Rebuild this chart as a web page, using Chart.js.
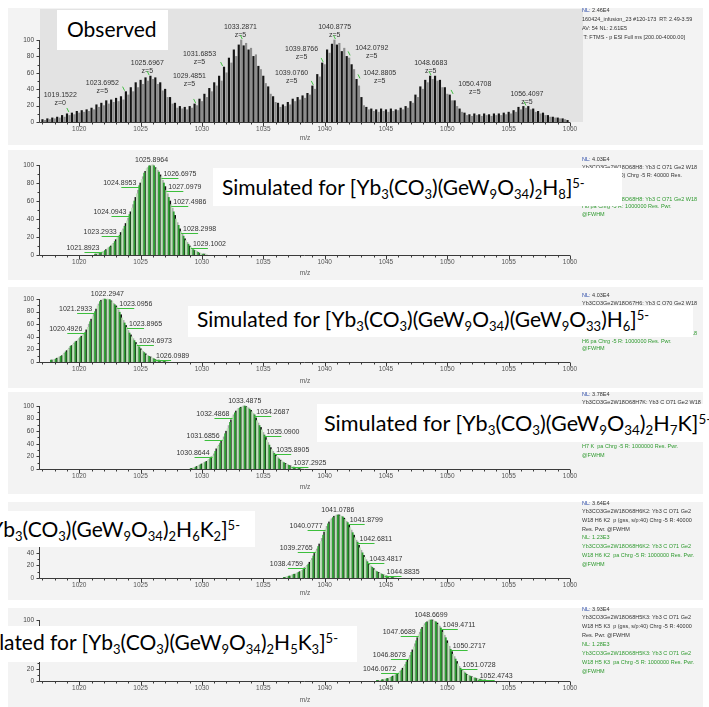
<!DOCTYPE html>
<html><head><meta charset="utf-8">
<script src="https://cdn.jsdelivr.net/npm/chart.js@4.4.1/dist/chart.umd.min.js"></script>
<style>
html,body{margin:0;padding:0;background:#fff;width:709px;height:707px;overflow:hidden;position:relative;font-family:"Liberation Sans",Arial,sans-serif}
.panel{position:absolute;left:8px;width:695px;background:#f3f3f3}
canvas{position:absolute;left:8px}
.info{position:absolute;left:582px;font-size:5.5px;white-space:nowrap;color:#333}
.info .g{color:#2f9a2f}
.info .nl{color:#2b4aa8}
.box{position:absolute;background:#fff;overflow:hidden;white-space:nowrap;font-family:Lato,"Open Sans",sans-serif;color:#000;font-size:21px;line-height:21px}
.box .t{position:absolute}
sub,sup{font-size:0.62em;line-height:0}
sub{vertical-align:-0.28em}
sup{vertical-align:0.55em}
</style></head>
<body>
<div class="panel" style="top:8px;height:137px"></div>
<div class="panel" style="top:150px;height:130px"></div>
<div class="panel" style="top:287px;height:101px"></div>
<div class="panel" style="top:392px;height:102px"></div>
<div class="panel" style="top:502px;height:98px"></div>
<div class="panel" style="top:608px;height:99px"></div>

<canvas id="c0" width="695" height="137" style="top:8px"></canvas>
<canvas id="c1" width="695" height="130" style="top:150px"></canvas>
<canvas id="c2" width="695" height="101" style="top:287px"></canvas>
<canvas id="c3" width="695" height="102" style="top:392px"></canvas>
<canvas id="c4" width="695" height="98" style="top:502px"></canvas>
<canvas id="c5" width="695" height="99" style="top:608px"></canvas>

<div class="info" style="top:5.5px;line-height:9px">
<div><span class="nl">NL:</span> 2.46E4</div>
<div>160424_infusion_23 #120-173&nbsp; RT: 2.49-3.59</div>
<div>AV: 54 NL: 2.61E5</div>
<div>&nbsp;T: FTMS - p ESI Full ms [200.00-4000.00]</div>
</div>
<div class="info" style="top:156px;line-height:7.9px">
<div><span class="nl">NL:</span> 4.03E4</div>
<div>Yb3CO3Ge2W18O68H8: Yb3 C O71 Ge2 W18</div>
<div>H8 p (gss, s/p:40) Chrg -5 R: 40000 Res.</div>
<div>Pwr. @FWHM</div>
<div class="g">NL: 1.23E3</div>
<div class="g">Yb3CO3Ge2W18O68H8: Yb3 C O71 Ge2 W18</div>
<div class="g">H8 pa Chrg -5 R: 1000000 Res. Pwr.</div>
<div class="g">@FWHM</div>
</div>
<div class="info" style="top:292px;line-height:7.6px">
<div><span class="nl">NL:</span> 4.03E4</div>
<div>Yb3CO3Ge2W18O67H6: Yb3 C O70 Ge2 W18</div>
<div>H6 p (gss, s/p:40) Chrg -5 R: 40000 Res.</div>
<div>Pwr. @FWHM</div>
<div class="g">NL: 1.23E3</div>
<div class="g">Yb3CO3Ge2W18O67H6: Yb3 C O70 Ge2 W18</div>
<div class="g">H6 pa Chrg -5 R: 1000000 Res. Pwr.</div>
<div class="g">@FWHM</div>
</div>
<div class="info" style="top:389.6px;line-height:8.7px">
<div><span class="nl">NL:</span> 3.78E4</div>
<div>Yb3CO3Ge2W18O68H7K: Yb3 C O71 Ge2 W18</div>
<div>H7 K p (gss, s/p:40) Chrg -5 R: 40000 Res.</div>
<div>Pwr. @FWHM</div>
<div class="g">NL: 1.28E3</div>
<div class="g">Yb3CO3Ge2W18O68H7K: Yb3 C O71 Ge2 W18</div>
<div class="g">H7 K&nbsp; pa Chrg -5 R: 1000000 Res. Pwr.</div>
<div class="g">@FWHM</div>
</div>
<div class="info" style="top:498.6px;line-height:8.7px">
<div><span class="nl">NL:</span> 3.64E4</div>
<div>Yb3CO3Ge2W18O68H6K2: Yb3 C O71 Ge2</div>
<div>W18 H6 K2&nbsp; p (gss, s/p:40) Chrg -5 R: 40000</div>
<div>Res. Pwr. @FWHM</div>
<div class="g">NL: 1.23E3</div>
<div class="g">Yb3CO3Ge2W18O68H6K2: Yb3 C O71 Ge2</div>
<div class="g">W18 H6 K2&nbsp; pa Chrg -5 R: 1000000 Res. Pwr.</div>
<div class="g">@FWHM</div>
</div>
<div class="info" style="top:604.5px;line-height:8.9px">
<div><span class="nl">NL:</span> 3.93E4</div>
<div>Yb3CO3Ge2W18O68H5K3: Yb3 C O71 Ge2</div>
<div>W18 H5 K3&nbsp; p (gss, s/p:40) Chrg -5 R: 40000</div>
<div>Res. Pwr. @FWHM</div>
<div class="g">NL: 1.28E3</div>
<div class="g">Yb3CO3Ge2W18O68H5K3: Yb3 C O71 Ge2</div>
<div class="g">W18 H5 K3&nbsp; pa Chrg -5 R: 1000000 Res. Pwr.</div>
<div class="g">@FWHM</div>
</div>

<div class="box" style="left:57px;top:10px;width:111px;height:40px"><span class="t" style="left:10px;top:8px">Observed</span></div>
<div class="box" style="left:213px;top:168px;width:409px;height:38px"><span class="t" style="left:9px;top:8.4px">Simulated for [Yb<sub>3</sub>(CO<sub>3</sub>)(GeW<sub>9</sub>O<sub>34</sub>)<sub>2</sub>H<sub>8</sub>]<sup>5-</sup></span></div>
<div class="box" style="left:188px;top:306px;width:505px;height:31px"><span class="t" style="left:9px;top:2px">Simulated for [Yb<sub>3</sub>(CO<sub>3</sub>)(GeW<sub>9</sub>O<sub>34</sub>)(GeW<sub>9</sub>O<sub>33</sub>)H<sub>6</sub>]<sup>5-</sup></span></div>
<div class="box" style="left:317px;top:404px;width:400px;height:38px"><span class="t" style="left:7px;top:9px;font-size:21.6px">Simulated for [Yb<sub>3</sub>(CO<sub>3</sub>)(GeW<sub>9</sub>O<sub>34</sub>)<sub>2</sub>H<sub>7</sub>K]<sup>5-</sup></span></div>
<div class="box" style="left:0px;top:511px;width:255px;height:36px"><span class="t" style="right:15px;top:7px">Simulated for [Yb<sub>3</sub>(CO<sub>3</sub>)(GeW<sub>9</sub>O<sub>34</sub>)<sub>2</sub>H<sub>6</sub>K<sub>2</sub>]<sup>5-</sup></span></div>
<div class="box" style="left:0px;top:626px;width:357px;height:36px"><span class="t" style="right:19px;top:5.4px">Simulated for [Yb<sub>3</sub>(CO<sub>3</sub>)(GeW<sub>9</sub>O<sub>34</sub>)<sub>2</sub>H<sub>5</sub>K<sub>3</sub>]<sup>5-</sup></span></div>

<script>
// ---------------- DATA ----------------
const xTickValues = [1020, 1025, 1030, 1035, 1040, 1045, 1050, 1055, 1060];
const yTickValues = [0, 20, 40, 60, 80, 100];
const isoStep = 0.2002;

// Observed spectrum: relative intensity every 0.2 m/z from 1017.0
const obsStart = 1017.0;
const obsIntensity = [
  3,2,4,3,5,4,6,5,8,6,
  10,8,11,9,13,11,14,12,15,13,
  17,15,21,18,23,20,26,22,27,24,
  29,25,31,27,37,33,42,37,48,42,
  51,46,54,50,56,52,54,46,48,38,
  40,30,30,22,23,17,19,16,18,15,
  19,17,22,20,28,25,34,30,41,37,
  48,44,56,50,67,60,78,72,88,80,
  94,100,93,96,88,90,80,82,68,64,
  56,47,43,34,31,24,23,18,21,19,
  24,21,28,25,30,27,32,29,35,33,
  44,40,58,55,72,70,88,84,95,100,
  94,96,86,90,80,78,70,64,52,44,
  30,20,18,15,16,13,15,12,16,13,
  15,12,16,13,15,14,17,15,19,17,
  25,23,33,30,43,40,51,48,56,52,
  56,50,51,42,42,34,33,26,26,19,
  16,12,11,8,9,7,10,8,9,7,
  10,8,9,7,10,8,10,8,11,9,
  12,10,14,12,18,15,19,17,19,15,
  16,12,13,10,11,8,8,6,6,5,
  5,4,4,3,2
];
const obsPeakMz = [1019.1522, 1023.6952, 1025.6967, 1029.4851, 1031.6853, 1033.2871, 1039.0760, 1039.8766, 1040.8775, 1042.0792, 1042.8805, 1048.6683, 1050.4708, 1056.4097];
const obsPeakCharge = ['z=0','z=5','z=5','z=5','z=5','z=5','z=5','z=5','z=5','z=5','z=5','z=5','z=5','z=5'];
// where each annotation text sits, in data units (m/z, intensity)
const obsLabelMz = [1018.45, 1021.88, 1025.55, 1028.98, 1029.80, 1033.14, 1037.31, 1038.12, 1040.82, 1043.84, 1044.49, 1048.65, 1052.24, 1056.49];
const obsLabelInt = [33, 47.6, 72, 56, 83, 116, 60, 89, 116, 90, 60, 72, 46, 34];

// Simulated [Yb3(CO3)(GeW9O34)2H8]5-
const sim1Start = 1021.2918;
const sim1Green = [1,2,2,4,5,7,9,12,15,19, 22,27,32,38,45,52,60,68,77,84, 91,96,99,100,99,96,92,87,80,72, 64,56,48,40,33,26,21,16,12,9, 6,5,3,2,1,1];
const sim1Black = [1,2,3,4,6,8,10,13,17,20, 25,29,35,41,48,56,64,72,80,87, 93,97,99,100,97,94,89,83,76,68, 60,52,44,36,29,23,18,14,10,7, 5,4,2,1,1,0];
const sim1Labels = [1021.8923,1023.2933,1024.0943,1024.8953,1025.8964,1026.6975,1027.0979,1027.4986,1028.2998,1029.1002];

// Simulated [Yb3(CO3)(GeW9O34)(GeW9O33)H6]5-
const sim2Start = 1017.6901;
const sim2Green = [3,3,5,7,9,12,16,20,25,28, 32,35,39,43,47,55,64,72,80,89, 96,99,100,100,99,96,91,87,79,70, 62,55,46,40,34,28,24,19,15,11, 9,7,5,4,3,2,1,1];
const sim2Black = [3,4,6,8,10,14,18,22,26,30, 33,37,41,45,51,60,68,76,84,92, 98,100,99,99,97,93,89,83,75,66, 58,50,43,37,31,26,21,17,13,10, 8,6,4,3,2,1,1,0];
const sim2Labels = [1020.4926,1021.2933,1022.2947,1023.0956,1023.8965,1024.6973,1026.0989];

// Simulated [Yb3(CO3)(GeW9O34)2H7K]5-
const sim3Start = 1029.0875;
const sim3Green = [1,2,3,5,7,9,11,14,17,21, 28,36,41,47,56,64,74,83,89,94, 97,99,100,98,95,91,86,77,69,62, 54,46,38,31,25,20,16,13,10,8, 6,4,3,2,2,1];
const sim3Black = [1,2,4,6,8,10,12,15,19,24, 32,38,44,51,60,69,78,86,92,96, 98,100,99,97,93,88,81,73,66,58, 50,42,34,28,22,18,14,11,9,7, 5,3,2,2,1,0];
const sim3Labels = [1030.8644,1031.6856,1032.4868,1033.4875,1034.2687,1035.0900,1035.8905,1037.2925];

// Simulated [Yb3(CO3)(GeW9O34)2H6K2]5-
const sim4Start = 1036.6786;
const sim4Green = [1,2,3,4,6,7,9,11,14,18, 22,28,35,43,50,58,68,78,86,92, 96,99,100,99,97,93,88,80,72,64, 57,48,40,33,26,21,17,13,10,8, 6,5,3,2,2,1];
const sim4Black = [1,2,3,5,6,8,10,12,16,20, 25,31,39,46,54,63,73,82,89,94, 98,100,100,98,95,90,84,76,68,60, 52,44,36,29,23,19,15,11,9,7, 5,4,2,2,1,0];
const sim4Labels = [1038.4759,1039.2765,1040.0777,1041.0786,1041.8799,1042.6811,1043.4817,1044.8835];

// Simulated [Yb3(CO3)(GeW9O34)2H5K3]5-
const sim5Start = 1044.2699;
const sim5Green = [1,1,2,3,4,5,7,9,11,14, 18,24,31,38,47,56,66,76,85,91, 96,99,100,99,97,93,87,80,71,62, 52,44,36,28,21,17,13,10,8,6, 5,4,3,2,2,1];
const sim5Black = [1,1,2,3,4,6,8,10,12,16, 21,27,34,42,51,61,71,80,88,94, 97,100,100,98,95,90,83,75,66,57, 48,40,32,24,19,15,11,9,7,5, 4,3,2,2,1,0];
const sim5Labels = [1046.0672,1046.8678,1047.6689,1048.6699,1049.4711,1050.2717,1051.0728,1052.4743];

// ---------------- LAYOUT ----------------
const GEOM = [
  {top:8,   bottom:145, plotTop:9,   y100:40,  axisY:122},
  {top:150, bottom:280, plotTop:155, y100:165, axisY:255},
  {top:287, bottom:388, plotTop:291, y100:299, axisY:362},
  {top:392, bottom:494, plotTop:398, y100:406, axisY:469},
  {top:502, bottom:600, plotTop:507, y100:515, axisY:578},
  {top:608, bottom:707, plotTop:612, y100:620, axisY:681}
];
const FONT = '"Liberation Sans", Arial, sans-serif';
Chart.defaults.font.family = FONT;
Chart.defaults.color = '#444';

const deco = {
  id: 'deco',
  beforeDatasetsDraw(chart, a, o) {
    if (!o.plotBg) return;
    const {ctx, chartArea: ca} = chart;
    ctx.save();
    ctx.fillStyle = o.plotBg;
    ctx.fillRect(ca.left, ca.top, ca.right - ca.left + 13, ca.bottom - ca.top);
    ctx.restore();
  },
  afterDatasetsDraw(chart, a, o) {
    const {ctx} = chart;
    const xs = chart.scales.x, ys = chart.scales.y;
    const y0 = Math.round(ys.getPixelForValue(0)) + 0.5;
    const y100 = ys.getPixelForValue(100);
    const xl = Math.round(xs.left) - 0.5;
    ctx.save();
    ctx.strokeStyle = '#3a3a3a';
    ctx.lineWidth = 1;
    ctx.beginPath();
    ctx.moveTo(xl, y0); ctx.lineTo(xs.right, y0);
    ctx.moveTo(xl, y0); ctx.lineTo(xl, y100);
    for (let m = Math.ceil(xs.min); m <= xs.max; m++) {
      const px = Math.round(xs.getPixelForValue(m)) + 0.5;
      const len = (m % 5 === 0) ? 4 : 2;
      ctx.moveTo(px, y0); ctx.lineTo(px, y0 + len);
    }
    for (let v = 0; v <= 100; v += 10) {
      const py = Math.round(ys.getPixelForValue(v)) + 0.5;
      const len = (v % 20 === 0) ? 3 : 2;
      ctx.moveTo(xl, py); ctx.lineTo(xl - len, py);
    }
    ctx.stroke();

    ctx.font = '7px ' + FONT;
    ctx.fillStyle = '#333';
    if (o.kind === 'obs') {
      ctx.textAlign = 'center';
      ctx.textBaseline = 'middle';
      obsPeakMz.forEach((mz, i) => {
        const lx = xs.getPixelForValue(obsLabelMz[i]);
        const ly = ys.getPixelForValue(obsLabelInt[i]);
        ctx.fillText(mz.toFixed(4), lx, ly);
        ctx.fillText(obsPeakCharge[i], lx, ly + 8);
        const idx = Math.round((mz - obsStart) / 0.2);
        const pv = Math.max(obsIntensity[idx] || 0, obsIntensity[idx - 1] || 0, obsIntensity[idx + 1] || 0);
        const px = xs.getPixelForValue(mz), py = ys.getPixelForValue(pv);
        ctx.strokeStyle = '#45c045';
        ctx.beginPath(); ctx.moveTo(px - 2, py - 5); ctx.lineTo(px, py - 1); ctx.stroke();
      });
    } else if (o.kind === 'sim') {
      const vals = o.labels.map(mz => o.green[Math.round((mz - o.start) / isoStep)] || 0);
      let apex = 0; vals.forEach((v, i) => { if (v > vals[apex]) apex = i; });
      ctx.textBaseline = 'alphabetic';
      o.labels.forEach((mz, i) => {
        const px = xs.getPixelForValue(mz), py = ys.getPixelForValue(vals[i]);
        const txt = mz.toFixed(4);
        ctx.fillStyle = '#333';
        ctx.strokeStyle = '#3cbf3c';
        if (i === apex) {
          ctx.textAlign = 'center';
          ctx.fillText(txt, px, py - 3);
        } else if (i < apex) {
          ctx.textAlign = 'right';
          ctx.fillText(txt, px - 3, py - 1);
          ctx.beginPath(); ctx.moveTo(px - 18, Math.round(py) + 1.5); ctx.lineTo(px, Math.round(py) + 1.5); ctx.stroke();
        } else {
          ctx.textAlign = 'left';
          ctx.fillText(txt, px + 2, py - 1);
          ctx.beginPath(); ctx.moveTo(px, Math.round(py) + 1.5); ctx.lineTo(px + 17, Math.round(py) + 1.5); ctx.stroke();
        }
      });
    }
    ctx.restore();
  }
};

function build(idx, datasets, decoOpts) {
  const g = GEOM[idx];
  const yMax = 100 * (g.axisY - g.plotTop) / (g.axisY - g.y100);
  return new Chart(document.getElementById('c' + idx), {
    type: 'bar',
    data: { datasets },
    options: {
      responsive: false, animation: false, events: [], devicePixelRatio: 1,
      layout: { padding: { top: g.plotTop - g.top, left: 0, right: 133, bottom: 0 } },
      plugins: { legend: { display: false }, tooltip: { enabled: false }, deco: decoOpts },
      scales: {
        x: {
          type: 'linear', min: 1016.8, max: 1060, offset: false,
          afterBuildTicks: s => { s.ticks = xTickValues.map(v => ({ value: v })); },
          afterFit: s => { s.height = g.bottom - g.axisY; s.paddingLeft = 0; s.paddingRight = 0; s.paddingTop = 0; s.paddingBottom = 0; },
          grid: { display: false, drawTicks: false }, border: { display: false },
          ticks: { autoSkip: false, maxRotation: 0, padding: 3, font: { size: 6.5 }, color: '#555', callback: v => String(v) },
          title: { display: true, text: 'm/z', font: { size: 6.5 }, color: '#555', padding: { top: 0, bottom: 3 } }
        },
        y: {
          type: 'linear', min: 0, max: yMax,
          afterBuildTicks: s => { s.ticks = yTickValues.map(v => ({ value: v })); },
          afterFit: s => { s.width = 32; s.paddingTop = 0; s.paddingBottom = 0; s.paddingLeft = 0; s.paddingRight = 0; },
          grid: { display: false, drawTicks: false }, border: { display: false },
          ticks: { padding: 6, font: { size: 6.5 }, color: '#444' }
        }
      }
    },
    plugins: [deco]
  });
}

// Observed
build(0, [{
  data: obsIntensity.map((v, i) => ({ x: obsStart + 0.2 * i, y: v })),
  backgroundColor: c => (c.dataIndex % 2 ? '#8c8c8c' : '#141414'),
  barThickness: 1.5, grouped: false, borderWidth: 0
}], { kind: 'obs', plotBg: '#e3e3e3' });

function simSets(start, green, black) {
  return [
    { data: green.map((v, i) => ({ x: start + isoStep * i, y: v })),
      backgroundColor: c => (c.dataIndex % 2 ? '#bfe3ba' : '#2f9f33'),
      barThickness: 1.2, grouped: false, borderWidth: 0 },
    { data: black.map((v, i) => ({ x: start + 0.1 + isoStep * i, y: v })),
      backgroundColor: c => (c.dataIndex % 2 ? '#a8a8a8' : '#121212'),
      barThickness: 1.5, grouped: false, borderWidth: 0 }
  ];
}
build(1, simSets(sim1Start, sim1Green, sim1Black), { kind: 'sim', labels: sim1Labels, green: sim1Green, start: sim1Start });
build(2, simSets(sim2Start, sim2Green, sim2Black), { kind: 'sim', labels: sim2Labels, green: sim2Green, start: sim2Start });
build(3, simSets(sim3Start, sim3Green, sim3Black), { kind: 'sim', labels: sim3Labels, green: sim3Green, start: sim3Start });
build(4, simSets(sim4Start, sim4Green, sim4Black), { kind: 'sim', labels: sim4Labels, green: sim4Green, start: sim4Start });
build(5, simSets(sim5Start, sim5Green, sim5Black), { kind: 'sim', labels: sim5Labels, green: sim5Green, start: sim5Start });
</script>
</body></html>
